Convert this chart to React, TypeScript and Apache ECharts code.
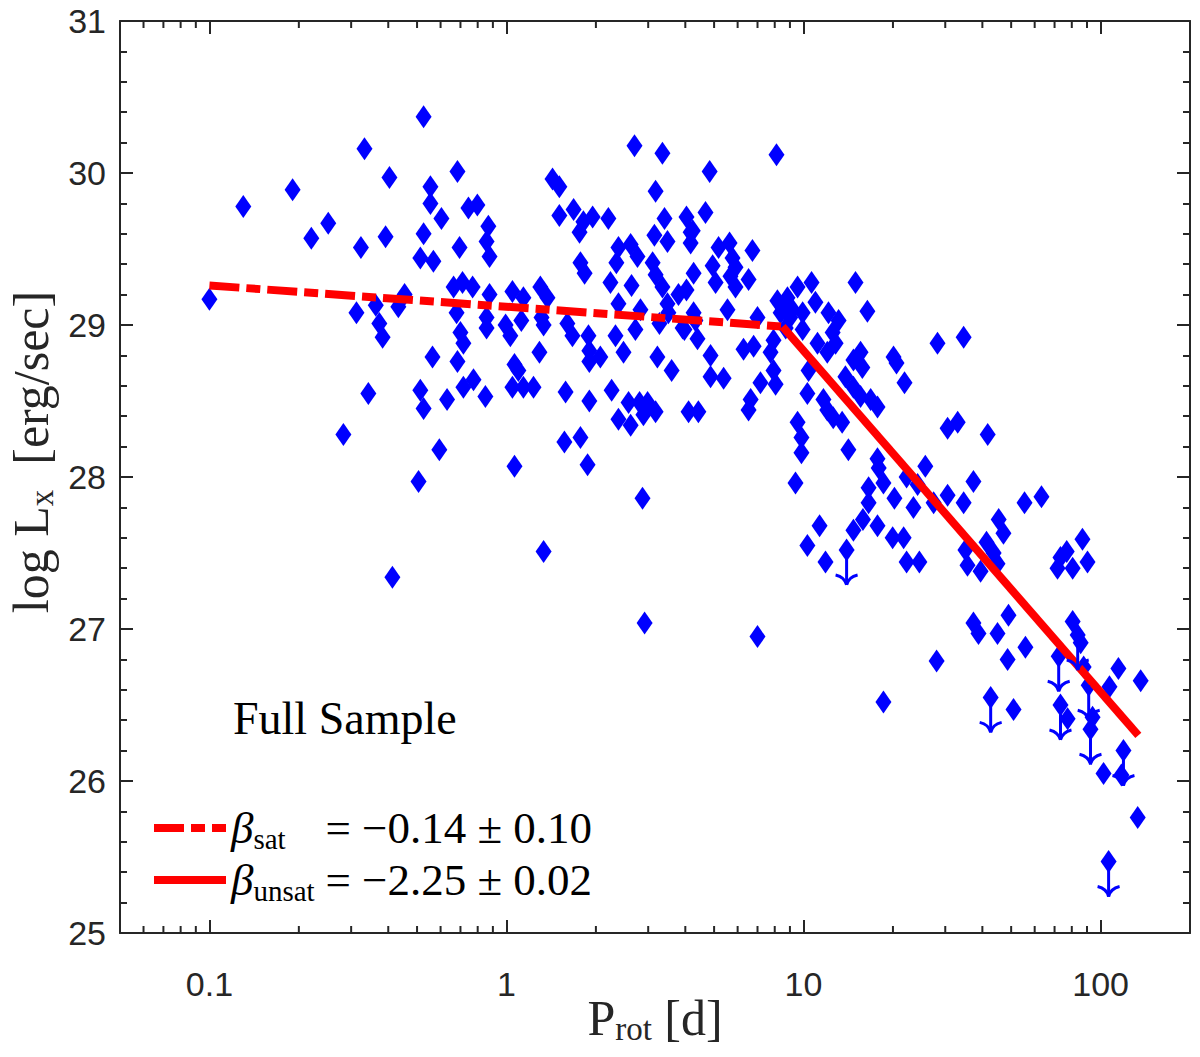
import { useEffect, useRef } from "react";
import * as echarts from "echarts";

// [log10(P_rot / d), log Lx] of each detected star
const detections: [number, number][] = [
  [-1.0, 29.17], [-0.886, 29.78], [-0.72, 29.89], [-0.657, 29.57], [-0.6, 29.67], [-0.478, 30.16],
  [-0.394, 29.97], [-0.49, 29.51], [-0.407, 29.58], [-0.505, 29.08], [-0.44, 29.13], [-0.428, 29.01],
  [-0.417, 28.92], [-0.364, 29.12], [-0.343, 29.2], [-0.465, 28.55], [-0.549, 28.28], [-0.384, 27.34],
  [-0.296, 27.97],
  [-0.279, 30.37], [-0.165, 30.01], [-0.256, 29.91], [-0.256, 29.8], [-0.219, 29.7], [-0.128, 29.77],
  [-0.098, 29.79], [-0.279, 29.6], [-0.158, 29.51], [-0.061, 29.65], [-0.067, 29.55], [-0.057, 29.45],
  [-0.29, 29.44], [-0.246, 29.42], [-0.178, 29.25], [-0.148, 29.28], [-0.114, 29.25], [-0.168, 29.08],
  [-0.155, 28.95], [-0.145, 28.88], [-0.057, 29.2], [-0.067, 29.05], [-0.067, 28.98], [-0.003, 29.0],
  [0.013, 28.93], [0.02, 29.22], [0.057, 29.18], [0.05, 29.03], [0.114, 29.25], [0.138, 29.18],
  [0.118, 29.05], [0.125, 29.0], [-0.249, 28.79], [-0.165, 28.76], [-0.29, 28.57], [-0.279, 28.45],
  [-0.2, 28.51], [-0.145, 28.59], [-0.111, 28.64], [-0.071, 28.53], [-0.226, 28.18], [0.027, 28.74],
  [0.04, 28.7], [0.02, 28.59], [0.057, 28.59], [0.091, 28.59], [0.111, 28.82], [0.027, 28.07],
  [0.125, 27.51],
  [0.199, 28.56], [0.279, 28.5], [0.195, 28.23], [0.249, 28.26], [0.273, 28.08], [0.458, 27.86],
  [0.155, 29.96], [0.178, 29.91], [0.178, 29.72], [0.226, 29.76], [0.259, 29.68], [0.29, 29.71],
  [0.246, 29.61], [0.343, 29.7], [0.249, 29.41], [0.263, 29.34], [0.431, 30.18], [0.525, 30.13],
  [0.502, 29.88], [0.532, 29.7], [0.498, 29.59], [0.542, 29.55], [0.606, 29.71], [0.62, 29.61],
  [0.62, 29.54], [0.63, 29.34], [0.377, 29.51], [0.418, 29.53], [0.441, 29.45], [0.37, 29.41],
  [0.35, 29.28], [0.421, 29.26], [0.492, 29.41], [0.502, 29.33], [0.525, 29.25], [0.542, 29.14],
  [0.579, 29.2], [0.606, 29.23], [0.377, 29.14], [0.451, 29.1], [0.367, 28.93], [0.434, 28.97],
  [0.394, 28.82], [0.508, 28.79], [0.556, 28.7], [0.515, 29.01], [0.593, 28.98], [0.636, 29.03],
  [0.643, 28.91], [0.354, 28.57], [0.411, 28.49], [0.377, 28.38], [0.418, 28.34], [0.448, 28.49],
  [0.475, 28.49], [0.502, 28.43], [0.461, 28.41], [0.613, 28.43], [0.646, 28.43], [0.465, 27.04],
  [0.845, 26.95], [0.205, 29.01], [0.222, 28.93], [0.276, 28.93], [0.279, 28.83], [0.316, 28.79],
  [0.279, 28.76], [0.545, 29.08], [0.627, 29.62],
  [0.909, 30.12], [0.684, 30.01], [0.67, 29.74], [0.714, 29.51], [0.751, 29.54], [0.761, 29.44],
  [0.828, 29.49], [0.694, 29.39], [0.704, 29.28], [0.771, 29.38], [0.754, 29.32], [0.771, 29.25],
  [0.815, 29.3], [0.744, 29.1], [0.63, 29.08], [0.599, 28.97], [0.845, 29.05], [0.798, 28.84],
  [0.832, 28.86], [0.687, 28.8], [0.687, 28.66], [0.731, 28.65], [0.855, 28.62], [0.906, 28.61],
  [0.822, 28.51], [0.815, 28.44], [0.912, 29.16], [0.946, 29.18], [0.923, 29.08], [0.98, 29.25],
  [1.027, 29.28], [1.04, 29.15], [0.997, 29.08], [0.963, 29.1], [0.899, 28.9], [0.889, 28.82],
  [0.899, 28.7], [0.997, 28.97], [1.047, 28.88], [1.08, 28.82], [1.017, 28.7], [1.013, 28.55],
  [1.084, 29.08], [1.118, 29.03], [1.098, 28.95], [1.108, 28.88], [1.175, 29.28], [1.215, 29.09],
  [1.141, 28.66], [1.168, 28.77], [1.192, 28.82], [1.198, 28.72], [1.168, 28.59], [1.192, 28.53],
  [1.226, 28.51], [1.249, 28.46], [1.067, 28.51], [1.08, 28.44], [1.1, 28.39], [1.13, 28.36],
  [1.303, 28.79], [1.313, 28.75], [1.34, 28.62], [0.98, 28.36], [0.993, 28.26], [0.993, 28.16],
  [0.973, 27.96], [1.151, 28.18], [1.451, 28.88], [1.539, 28.92], [1.485, 28.32], [1.519, 28.36],
  [1.249, 28.12], [1.253, 28.06], [1.219, 27.93], [1.269, 27.96], [1.306, 27.86], [1.347, 28.0],
  [1.37, 27.8], [1.41, 28.07], [1.384, 27.95], [1.438, 27.83], [1.485, 27.88], [1.539, 27.83],
  [1.572, 27.97], [1.219, 27.83], [1.2, 27.72], [1.249, 27.68], [1.168, 27.65], [1.054, 27.68],
  [1.013, 27.55], [1.3, 27.6], [1.337, 27.6], [1.074, 27.44], [0.93, 29.12], [0.955, 29.05],
  [0.94, 28.98],
  [1.62, 28.28], [1.347, 27.44], [1.39, 27.44], [1.545, 27.52], [1.552, 27.42], [1.596, 27.38],
  [1.616, 27.57], [1.64, 27.5], [1.653, 27.43], [1.657, 27.72], [1.673, 27.63], [1.744, 27.83],
  [1.801, 27.87], [1.939, 27.59], [1.865, 27.47], [1.886, 27.51], [1.906, 27.4], [1.956, 27.44],
  [1.855, 27.4], [1.572, 27.04], [1.589, 26.97], [1.69, 27.09], [1.653, 26.97], [1.687, 26.8],
  [1.747, 26.88], [1.448, 26.79], [1.269, 26.52], [1.707, 26.47], [1.906, 27.05], [1.933, 26.91],
  [1.889, 26.41], [2.01, 26.05], [2.03, 26.62], [2.06, 26.74], [2.135, 26.66], [2.125, 25.76],
  [2.07, 26.04], [1.943, 26.75], [1.973, 26.42],
];

// stars with only an upper limit on Lx (drawn with a down arrow)
const upperLimits: [number, number][] = [
  [1.145, 27.52], [1.63, 26.55], [1.859, 26.82], [1.865, 26.5], [1.923, 26.96],
  [1.96, 26.63], [1.966, 26.34], [2.077, 26.2], [2.027, 25.47],
];

// broken power-law fit: saturated and unsaturated branches
const satP = [0.1, 8.5];
const satLx = [29.26, 28.99];
const unsatP = [8.5, 134];
const unsatLx = [28.99, 26.3];

const xMinorTicks = [
  0.06, 0.07, 0.08, 0.09, 0.2, 0.3, 0.4, 0.5, 0.6, 0.7, 0.8, 0.9,
  2, 3, 4, 5, 6, 7, 8, 9, 20, 30, 40, 50, 60, 70, 80, 90,
];

const BLUE = "#0000ff";
const RED = "#ff0000";
const AXIS = "#262626";
const SERIF = "Liberation Serif";
const SANS = "Liberation Sans";
const ARROW_DEX = 0.23;
const SAT_DASH = [30, 7, 14, 7];

const toPoint = ([lp, lx]: [number, number]) => [Math.pow(10, lp), lx];

function decadeLabel(v: number) {
  const e = Math.round(Math.log10(v));
  if (Math.abs(Math.log10(v) - e) > 1e-6) return "";
  return e < 0 ? Math.pow(10, e).toFixed(-e) : String(Math.pow(10, e));
}

export default function App() {
  const ref = useRef<HTMLDivElement>(null);

  useEffect(() => {
    if (!ref.current) return;
    const chart = echarts.init(ref.current, undefined, { renderer: "svg" });

    const xBase = {
      type: "log",
      logBase: 10,
      min: 0.05,
      max: 200,
      axisLine: { show: true, onZero: false, lineStyle: { color: AXIS, width: 2 } },
      axisTick: { show: true, inside: true, length: 13, lineStyle: { color: AXIS, width: 2 } },
      splitLine: { show: false },
    };
    const yBase = {
      type: "value",
      min: 25,
      max: 31,
      interval: 1,
      axisLine: { show: true, lineStyle: { color: AXIS, width: 2 } },
      axisTick: { show: true, inside: true, length: 13, lineStyle: { color: AXIS, width: 2 } },
      minorTick: { show: true, splitNumber: 5, length: 7, lineStyle: { color: AXIS, width: 2 } },
      splitLine: { show: false },
      minorSplitLine: { show: false },
    };
    const nameRich = {
      m: { fontFamily: SERIF, fontSize: 50, lineHeight: 54, color: AXIS },
      s: { fontFamily: SERIF, fontSize: 33, lineHeight: 20, verticalAlign: "bottom", color: AXIS },
    };
    const legendRich = {
      b: { fontFamily: SERIF, fontStyle: "italic", fontSize: 45, lineHeight: 50, color: "#000" },
      s: { fontFamily: SERIF, fontSize: 29, lineHeight: 24, width: 72, verticalAlign: "bottom", color: "#000" },
      t: { fontFamily: SERIF, fontSize: 45, lineHeight: 50, color: "#000" },
    };

    const option = {
      animation: false,
      backgroundColor: "#ffffff",
      grid: { left: 120, right: 10, top: 21, bottom: 124, containLabel: false, outerBoundsMode: "none" },
      xAxis: [
        {
          ...xBase,
          position: "bottom",
          name: "{m|P}{s|rot}{m| [d]}",
          nameLocation: "middle",
          nameGap: 58,
          nameMoveOverlap: false,
          nameTextStyle: { rich: nameRich },
          axisLabel: {
            show: true,
            margin: 34,
            color: AXIS,
            fontFamily: SANS,
            fontSize: 34,
            formatter: decadeLabel,
          },
        },
        { ...xBase, position: "top", axisLabel: { show: false } },
      ],
      yAxis: [
        {
          ...yBase,
          position: "left",
          name: "{m|log L}{s|x}{m|  [erg/sec]}",
          nameLocation: "middle",
          nameGap: 62,
          nameMoveOverlap: false,
          nameTextStyle: { rich: nameRich, padding: [0, 0, 0, 50] },
          axisLabel: { show: true, margin: 14, color: AXIS, fontFamily: SANS, fontSize: 34 },
        },
        { ...yBase, position: "right", axisLabel: { show: false } },
      ],
      legend: {
        data: ["sat", "unsat"],
        orient: "vertical",
        left: 150,
        top: 803,
        padding: 0,
        itemWidth: 72,
        itemHeight: 12,
        itemGap: 2,
        selectedMode: false,
        itemStyle: { opacity: 0 },
        lineStyle: { width: 8, cap: "butt" },
        formatter: (name: string) =>
          name === "sat"
            ? "{b|β}{s|sat}{t|= −0.14 ± 0.10}"
            : "{b|β}{s|unsat}{t|= −2.25 ± 0.02}",
        textStyle: { rich: legendRich, lineHeight: 50 },
      },
      graphic: [
        {
          type: "text",
          x: 233,
          y: 718,
          style: {
            text: "Full Sample",
            fontFamily: SERIF,
            fontSize: 46,
            fill: "#000",
            align: "left",
            verticalAlign: "middle",
          },
        },
      ],
      series: [
        {
          type: "custom",
          name: "minorTicks",
          silent: true,
          z: 5,
          data: xMinorTicks.map((v) => [v, 25]),
          renderItem: (params: any, api: any) => {
            const x = api.coord([api.value(0), 25])[0];
            const cs = params.coordSys;
            const top = cs.y;
            const bottom = cs.y + cs.height;
            const style = { stroke: AXIS, lineWidth: 2 };
            return {
              type: "group",
              children: [
                { type: "line", shape: { x1: x, y1: bottom, x2: x, y2: bottom - 7 }, style },
                { type: "line", shape: { x1: x, y1: top, x2: x, y2: top + 7 }, style },
              ],
            };
          },
        },
        {
          type: "scatter",
          name: "detections",
          symbol: "diamond",
          symbolSize: [16, 23],
          itemStyle: { color: BLUE, opacity: 1 },
          z: 2,
          data: detections.map(toPoint),
        },
        {
          type: "scatter",
          name: "upper limits",
          symbol: "diamond",
          symbolSize: [16, 23],
          itemStyle: { color: BLUE, opacity: 1 },
          z: 2,
          data: upperLimits.map(toPoint),
        },
        {
          type: "line",
          name: "sat",
          symbol: "none",
          showSymbol: false,
          z: 3,
          itemStyle: { color: RED },
          lineStyle: { color: RED, width: 8, type: SAT_DASH, cap: "butt" },
          data: satP.map((p, i) => [p, satLx[i]]),
        },
        {
          type: "line",
          name: "unsat",
          symbol: "none",
          showSymbol: false,
          z: 3,
          itemStyle: { color: RED },
          lineStyle: { color: RED, width: 8, type: "solid" },
          data: unsatP.map((p, i) => [p, unsatLx[i]]),
        },
        {
          type: "custom",
          name: "arrows",
          silent: true,
          z: 4,
          data: upperLimits.map(toPoint),
          renderItem: (_params: any, api: any) => {
            const p = api.value(0);
            const l = api.value(1);
            const [x, y] = api.coord([p, l]);
            const yt = api.coord([p, l - ARROW_DEX])[1];
            const style = { stroke: BLUE, lineWidth: 3, fill: "none" };
            return {
              type: "group",
              children: [
                { type: "line", shape: { x1: x, y1: y, x2: x, y2: yt }, style },
                { type: "bezierCurve", shape: { x1: x, y1: yt, cpx1: x - 2, cpy1: yt - 8, x2: x - 11, y2: yt - 10 }, style },
                { type: "bezierCurve", shape: { x1: x, y1: yt, cpx1: x + 2, cpy1: yt - 8, x2: x + 11, y2: yt - 10 }, style },
              ],
            };
          },
        },
      ],
    } as any;

    chart.setOption(option);
    return () => chart.dispose();
  }, []);

  return (
    <div
      ref={ref}
      style={{ position: "absolute", left: 0, top: 0, width: 1200, height: 1057 }}
      aria-label="Rotation period versus X-ray luminosity"
    />
  );
}
